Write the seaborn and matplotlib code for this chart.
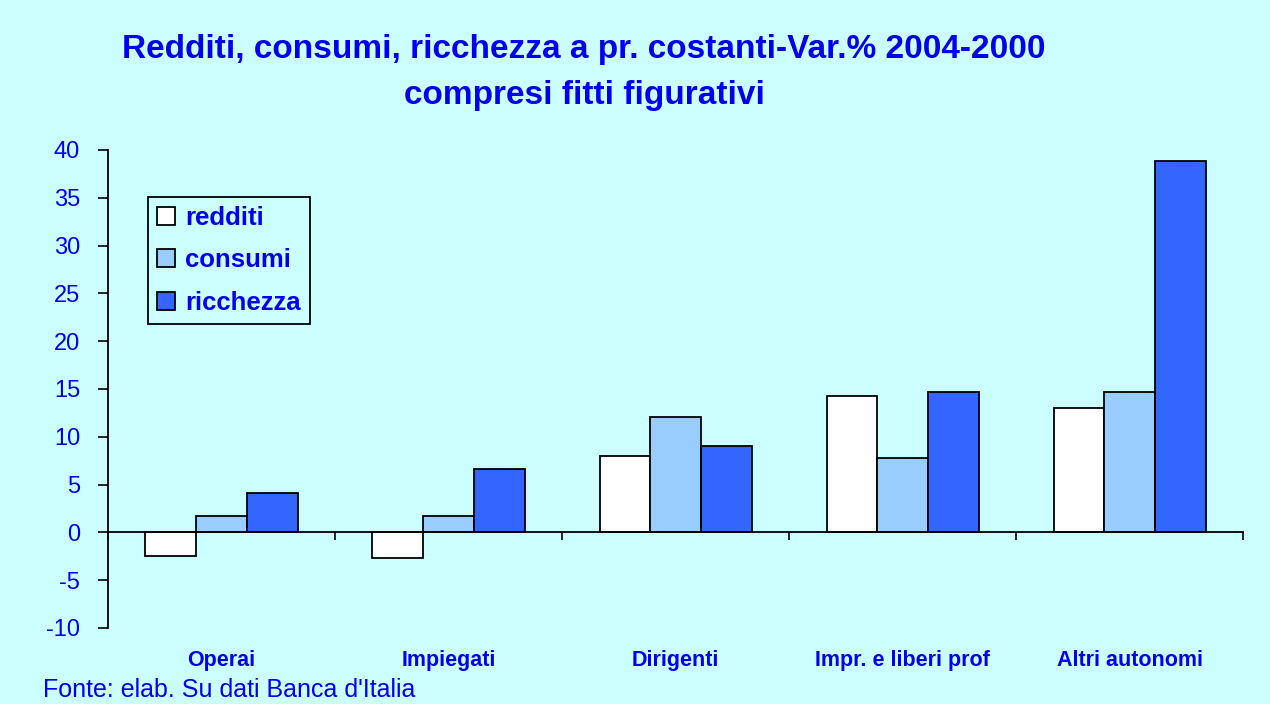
import pandas as pd
import numpy as np
import matplotlib.pyplot as plt
import seaborn as sns

categorie = ['Operai', 'Impiegati', 'Dirigenti', 'Impr. e liberi prof', 'Altri autonomi']
redditi = [-2.5, -2.7, 8.0, 14.3, 13.0]
consumi = [1.7, 1.7, 12.1, 7.8, 14.7]
ricchezza = [4.1, 6.6, 9.0, 14.7, 38.8]
serie = ['redditi', 'consumi', 'ricchezza']
colori = ['#FFFFFF', '#99CCFF', '#3366FF']

bg = '#CCFFFF'
blu = '#0000EE'

df = pd.DataFrame({'categoria': categorie, 'redditi': redditi,
                   'consumi': consumi, 'ricchezza': ricchezza})
df = df.melt(id_vars='categoria', var_name='serie', value_name='valore')

sns.set_style('white')
plt.rcParams['font.family'] = ['Liberation Sans', 'DejaVu Sans']
plt.rcParams['axes.unicode_minus'] = False

fig = plt.figure(figsize=(12.7, 7.04), dpi=100, facecolor=bg)
ax = fig.add_axes([0.085, 0.108, 0.894, 0.679])
ax.set_facecolor(bg)

sns.barplot(data=df, x='categoria', y='valore', hue='serie', order=categorie,
            hue_order=serie, palette=colori, saturation=1, width=0.67,
            edgecolor='black', linewidth=1.3, ax=ax)

ax.set_ylim(-10, 40)
ax.set_xlim(-0.5, 4.5)
ax.set_yticks(np.arange(-10, 41, 5))
ax.tick_params(axis='y', colors='black', labelcolor=blu, labelsize=17,
               direction='out', length=7, width=1.2, left=True, pad=13)
ax.spines['top'].set_visible(False)
ax.spines['right'].set_visible(False)
ax.spines['left'].set_color('black')
ax.spines['left'].set_linewidth(1.3)
ax.spines['bottom'].set_position(('data', 0))
ax.spines['bottom'].set_color('black')
ax.spines['bottom'].set_linewidth(1.3)

# tacche tra le categorie, etichette sotto il grafico
ax.set_xticks(np.arange(-0.5, 5, 1.0))
ax.set_xticklabels([])
ax.tick_params(axis='x', which='major', direction='out', length=6, width=1.2,
               bottom=True, colors='black')
ax.set_xticks(np.arange(5), minor=True)
ax.set_xticklabels(categorie, minor=True, fontweight='bold', color=blu, fontsize=15.5)
ax.tick_params(axis='x', which='minor', length=0, pad=85)
ax.set_xlabel('')
ax.set_ylabel('')

leg = ax.legend(loc='upper left', bbox_to_anchor=(0.035, 0.902), borderaxespad=0,
                frameon=True, fancybox=False, edgecolor='black', facecolor=bg,
                framealpha=1, handlelength=0.7, handleheight=0.7, handletextpad=0.4,
                labelspacing=0.72, borderpad=0.35,
                prop={'weight': 'bold', 'size': 18.5})
leg.get_frame().set_linewidth(1.3)
for t in leg.get_texts():
    t.set_color(blu)

fig.text(0.46, 0.93, 'Redditi, consumi, ricchezza a pr. costanti-Var.% 2004-2000',
         ha='center', va='center', fontsize=24, fontweight='bold', color=blu)
fig.text(0.46, 0.864, 'compresi fitti figurativi', ha='center', va='center',
         fontsize=24, fontweight='bold', color=blu)
fig.text(0.034, 0.02, "Fonte: elab. Su dati Banca d'Italia", ha='left', va='center',
         fontsize=18, color=blu)

fig.savefig('out.png', dpi=100, facecolor=bg)
